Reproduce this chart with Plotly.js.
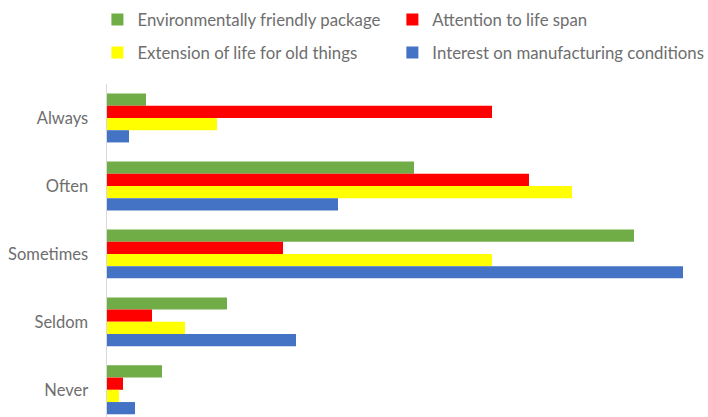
<!DOCTYPE html>
<html>
<head>
<meta charset="utf-8">
<script src="https://cdn.plot.ly/plotly-3.0.1.min.js"></script>
<style>html,body{margin:0;padding:0;background:#fff;}#chart{width:708px;height:417px;}</style>
</head>
<body>
<div id="chart"></div>
<script>
const categories = ["Always", "Often", "Sometimes", "Seldom", "Never"];
const seriesNames = ["Environmentally friendly package", "Attention to life span", "Extension of life for old things", "Interest on manufacturing conditions"];
const envPackage = [3.9, 30.7, 52.7, 12.0, 5.5];
const lifeSpan = [38.5, 42.2, 17.6, 4.5, 1.6];
const extensionLife = [11.0, 46.5, 38.5, 7.8, 1.2];
const manufacturing = [2.2, 23.1, 57.6, 18.9, 2.8];
const colors = ["#70AD47", "#FF0000", "#FFFF00", "#4472C4"];

const seriesValues = [envPackage, lifeSpan, extensionLife, manufacturing];
const legendIds = ["legend", "legend2", "legend3", "legend4"];
const traces = seriesValues.map((vals, i) => ({
  type: "bar",
  orientation: "h",
  name: seriesNames[i],
  y: categories,
  x: vals,
  marker: {color: colors[i], line: {width: 0}},
  legend: legendIds[i],
  hoverinfo: "x+name"
}));

const legendFont = {family: "Lato, 'Open Sans', sans-serif", size: 16.8, color: "#6E6E6E"};
function makeLegend(x, y) {
  return {
    orientation: "h",
    xref: "container", yref: "container",
    x: x, y: y, xanchor: "left", yanchor: "middle",
    font: legendFont,
    itemclick: false, itemdoubleclick: false,
    bgcolor: "rgba(0,0,0,0)"
  };
}
const layout = {
  width: 708,
  height: 417,
  margin: {l: 107, r: 1, t: 84, b: 0},
  paper_bgcolor: "#ffffff",
  plot_bgcolor: "#ffffff",
  barmode: "group",
  bargap: 0.28,
  bargroupgap: 0,
  showlegend: true,
  font: {family: "Lato, 'Open Sans', sans-serif", color: "#6E6E6E"},
  xaxis: {range: [0, 60], visible: false, fixedrange: true},
  yaxis: {
    type: "category",
    categoryorder: "array",
    categoryarray: categories,
    range: [4.4, -0.5],
    showline: true,
    linecolor: "#D9D9D9",
    linewidth: 1.5,
    showgrid: false,
    zeroline: false,
    ticks: "",
    ticklabelstandoff: 14,
    tickfont: {family: "Lato, 'Open Sans', sans-serif", size: 16.5, color: "#6E6E6E"}
  },
  legend: makeLegend(0.1376, 0.9532),
  legend2: makeLegend(0.5542, 0.9532),
  legend3: makeLegend(0.1376, 0.8741),
  legend4: makeLegend(0.5542, 0.8741)
};

Plotly.newPlot("chart", traces, layout, {displayModeBar: false, staticPlot: true});
</script>
</body>
</html>
